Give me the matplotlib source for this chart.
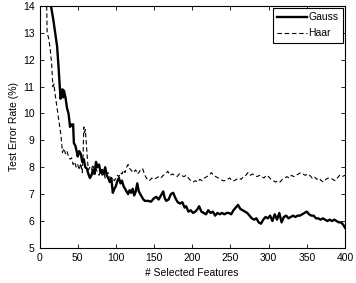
import matplotlib
matplotlib.use("Agg")
import matplotlib.pyplot as plt

gauss_x = [13, 15, 18, 21, 23, 25, 26.5, 27.5, 29, 30, 31, 32, 34, 36, 38, 40, 41, 43, 44, 45, 47, 49, 50, 52, 54, 56, 58, 60, 62, 64, 66, 68, 70, 72, 74, 76, 78, 80, 82, 84, 86, 88, 90, 92, 94, 96, 98, 100, 102, 104, 106, 108, 110, 112, 114, 116, 118, 120, 122, 124, 126, 128, 130, 132, 134, 136, 138, 142, 146, 150, 153, 156, 159, 162, 164, 166, 169, 172, 175, 178, 181, 184, 187, 190, 192, 195, 198, 201, 204, 207, 209, 212, 215, 218, 221, 224, 227, 230, 233, 236, 239, 242, 245, 248, 251, 254, 257, 260, 263, 266, 269, 272, 275, 278, 281, 284, 287, 290, 293, 296, 299, 302, 305, 308, 311, 314, 317, 320, 323, 326, 329, 332, 335, 338, 341, 344, 347, 350, 353, 356, 359, 362, 365, 368, 371, 374, 377, 380, 383, 386, 389, 392, 395, 398, 400]
gauss_y = [14.3, 14.0, 13.5, 12.9, 12.5, 11.7, 11.0, 10.55, 10.7, 10.9, 10.6, 10.85, 10.6, 10.2, 10.0, 9.5, 9.6, 9.55, 9.6, 8.9, 8.8, 8.55, 8.4, 8.6, 8.5, 8.2, 8.3, 8.0, 7.95, 7.75, 7.6, 7.7, 7.9, 7.75, 8.2, 8.0, 8.1, 7.8, 7.9, 7.75, 8.0, 7.7, 7.6, 7.45, 7.6, 7.05, 7.2, 7.3, 7.5, 7.6, 7.4, 7.5, 7.3, 7.2, 7.1, 7.0, 7.15, 7.05, 7.2, 6.95, 7.1, 7.4, 7.1, 7.0, 6.9, 6.8, 6.75, 6.75, 6.72, 6.85, 6.9, 6.8, 6.95, 7.1, 6.85, 6.75, 6.8, 7.0, 7.05, 6.85, 6.7, 6.65, 6.7, 6.5, 6.55, 6.35, 6.4, 6.3, 6.35, 6.45, 6.55, 6.35, 6.3, 6.25, 6.4, 6.3, 6.35, 6.2, 6.3, 6.25, 6.3, 6.25, 6.3, 6.3, 6.25, 6.4, 6.5, 6.6, 6.45, 6.4, 6.35, 6.3, 6.2, 6.1, 6.05, 6.1, 5.95, 5.9, 6.05, 6.15, 6.1, 6.2, 6.0, 6.25, 6.05, 6.3, 5.95, 6.15, 6.2, 6.1, 6.15, 6.2, 6.15, 6.2, 6.2, 6.25, 6.3, 6.35, 6.25, 6.2, 6.2, 6.1, 6.1, 6.05, 6.1, 6.05, 6.0, 6.05, 6.0, 6.05, 6.0, 5.95, 5.95, 5.85, 5.75]

haar_x = [9, 9.5, 10, 12, 14, 16, 17.5, 19, 20, 22, 24, 26, 28, 29, 30, 32, 34, 36, 38, 40, 42, 44, 46, 48, 50, 52, 54, 56, 57, 58, 59, 60, 61, 62, 63, 64, 66, 68, 70, 72, 74, 76, 78, 80, 82, 84, 86, 88, 90, 92, 94, 96, 98, 100, 102, 104, 106, 108, 110, 112, 114, 116, 118, 120, 122, 124, 126, 128, 130, 132, 135, 138, 141, 144, 147, 150, 153, 156, 159, 162, 165, 168, 171, 174, 177, 180, 183, 186, 189, 192, 195, 198, 201, 204, 207, 210, 213, 216, 219, 222, 225, 228, 231, 234, 237, 240, 243, 246, 249, 252, 255, 258, 261, 264, 267, 270, 273, 276, 279, 282, 285, 288, 291, 294, 297, 300, 303, 306, 309, 312, 315, 318, 321, 324, 327, 330, 333, 336, 339, 342, 345, 348, 351, 354, 357, 360, 363, 366, 369, 372, 375, 378, 381, 384, 387, 390, 393, 396, 400]
haar_y = [14.3, 13.8, 13.0, 12.8, 12.4, 11.8, 11.0, 11.1, 10.8, 10.4, 10.0, 9.6, 9.2, 8.9, 8.55, 8.7, 8.5, 8.6, 8.4, 8.3, 8.35, 8.1, 8.2, 8.0, 8.1, 7.9, 8.15, 7.8, 8.4, 9.5, 9.3, 9.4, 9.0, 8.6, 8.2, 7.9, 8.0, 7.9, 8.1, 7.85, 7.95, 7.8, 7.7, 7.85, 7.7, 7.8, 7.6, 7.75, 7.8, 7.65, 7.5, 7.55, 7.5, 7.6, 7.7, 7.65, 7.8, 7.75, 7.9, 7.8, 8.0, 8.1, 7.95, 7.9, 7.8, 7.85, 7.9, 7.75, 7.8, 7.9, 7.95, 7.7, 7.55, 7.5, 7.6, 7.55, 7.6, 7.65, 7.6, 7.7, 7.75, 7.85, 7.7, 7.75, 7.7, 7.65, 7.75, 7.7, 7.65, 7.7, 7.6, 7.5, 7.45, 7.5, 7.45, 7.55, 7.5, 7.6, 7.65, 7.7, 7.8, 7.7, 7.65, 7.6, 7.55, 7.5, 7.5, 7.55, 7.6, 7.5, 7.5, 7.55, 7.6, 7.55, 7.65, 7.7, 7.8, 7.7, 7.75, 7.7, 7.65, 7.7, 7.65, 7.6, 7.7, 7.65, 7.55, 7.5, 7.45, 7.5, 7.45, 7.55, 7.6, 7.65, 7.6, 7.7, 7.65, 7.7, 7.75, 7.8, 7.75, 7.7, 7.75, 7.7, 7.6, 7.65, 7.55, 7.6, 7.5, 7.45, 7.55, 7.6, 7.6, 7.55, 7.5, 7.6, 7.7, 7.65, 7.7]

x_ticks = [0, 50, 100, 150, 200, 250, 300, 350, 400]
y_ticks = [5, 6, 7, 8, 9, 10, 11, 12, 13, 14]

plt.rcParams['font.family'] = ['Liberation Sans', 'DejaVu Sans']
fig = plt.figure(figsize=(3.56, 2.83), dpi=100)
ax = fig.add_axes([0.111, 0.124, 0.858, 0.855])
ax.plot(gauss_x, gauss_y, color='black', lw=1.7, label='Gauss')
ax.plot(haar_x, haar_y, color='black', lw=0.8, ls=(0, (4, 2.5)), label='Haar')
ax.set_xlim(0, 400)
ax.set_ylim(5, 14)
ax.set_xticks(x_ticks)
ax.set_yticks(y_ticks)
ax.tick_params(direction='in', top=True, right=True, labelsize=7.5, length=3, width=0.6)
for s in ax.spines.values():
    s.set_linewidth(0.8)
ax.set_xlabel('# Selected Features', fontsize=7.5, labelpad=4)
ax.set_ylabel('Test Error Rate (%)', fontsize=7.5, labelpad=3)
leg = ax.legend(loc='upper right', fontsize=7.5, fancybox=False, edgecolor='black',
                framealpha=1, borderaxespad=0.2, handlelength=2.8, handletextpad=0.2,
                labelspacing=0.6, borderpad=0.4)
leg.get_frame().set_linewidth(0.8)
fig.savefig('out.png', dpi=100)
